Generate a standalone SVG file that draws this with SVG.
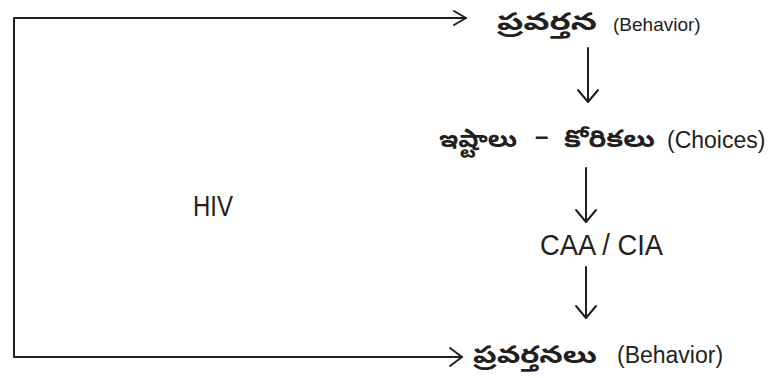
<svg xmlns="http://www.w3.org/2000/svg" width="775" height="378" viewBox="0 0 775 378">
<style>
.ln{fill:none;stroke:#231f20;stroke-width:2;stroke-linecap:round;stroke-linejoin:round}
.en{font-family:"Liberation Sans",Arial,sans-serif;fill:#231f20}
.te{font-family:"Noto Sans Telugu","Lohit Telugu","Noto Sans",sans-serif;font-weight:bold;fill:#231f20}
</style>
<rect width="775" height="378" fill="#fff"/>
<g id="connectors">
<path class="ln" d="M466,18 H14 V357 H462"/>
<path class="ln" d="M454,11 L466,18 L454,25"/>
<path class="ln" d="M450,348 L462,357 L450,366"/>
<path class="ln" d="M588,48 V102 M578,90 L588,102 L598,90"/>
<path class="ln" d="M586,168 V222 M576,210 L586,222 L596,210"/>
<path class="ln" d="M586,267 V318 M576,306 L586,318 L596,306"/>
</g>
<g id="hiv"><text class="en" x="193" y="216" font-size="29" textLength="40" lengthAdjust="spacingAndGlyphs">HIV</text></g>
<g id="behavior-top">
<text class="te" x="497" y="30" font-size="24" textLength="100" lengthAdjust="spacingAndGlyphs">ప్రవర్తన</text>
<text class="en" x="613" y="31" font-size="19">(Behavior)</text>
</g>
<g id="choices">
<text class="te" x="439" y="147" font-size="24" textLength="78" lengthAdjust="spacingAndGlyphs">ఇష్టాలు</text>
<text class="en" x="535" y="144" font-size="24" font-weight="bold">–</text>
<text class="te" x="564" y="147" font-size="24" textLength="91" lengthAdjust="spacingAndGlyphs">కోరికలు</text>
<text class="en" x="667" y="148" font-size="23">(Choices)</text>
</g>
<g id="caa"><text class="en" x="540" y="255" font-size="29" textLength="123" lengthAdjust="spacingAndGlyphs">CAA / CIA</text></g>
<g id="behavior-bottom">
<text class="te" x="473" y="363" font-size="24" textLength="124" lengthAdjust="spacingAndGlyphs">ప్రవర్తనలు</text>
<text class="en" x="617" y="363" font-size="23">(Behavior)</text>
</g>
</svg>
